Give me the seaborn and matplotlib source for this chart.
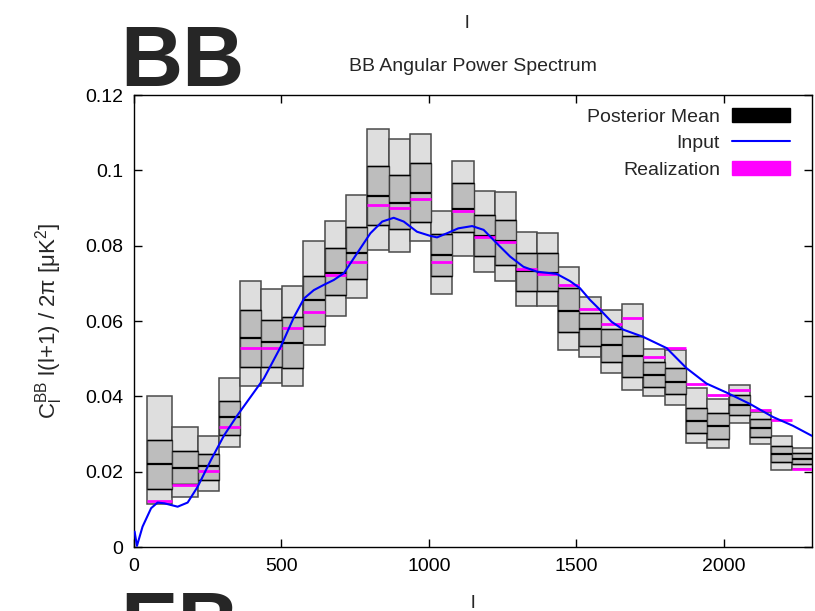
import matplotlib
matplotlib.use("Agg")
import matplotlib.pyplot as plt
from matplotlib.patches import Patch
from matplotlib.lines import Line2D
from matplotlib.ticker import FuncFormatter
import seaborn as sns
import numpy as np

# ---- data ----
l_edges = [43, 129, 216, 288, 359, 432, 503, 574, 648, 719, 791, 864, 935, 1008, 1080,
           1152, 1223, 1296, 1367, 1440, 1511, 1585, 1656, 1728, 1801, 1873, 1945, 2017,
           2089, 2161, 2232, 2303]
outer_hi = [0.0401, 0.0318, 0.0295, 0.0448, 0.0707, 0.0684, 0.0694, 0.0812, 0.0865, 0.0934,
            0.1109, 0.1082, 0.1096, 0.0892, 0.1026, 0.0946, 0.0942, 0.0837, 0.0834, 0.0743,
            0.0663, 0.0629, 0.0644, 0.0525, 0.0523, 0.0421, 0.0392, 0.0430, 0.0359, 0.0295, 0.0262]
inner_hi = [0.0283, 0.0256, 0.0246, 0.0388, 0.0628, 0.0603, 0.0611, 0.0719, 0.0795, 0.0850,
            0.1012, 0.0988, 0.1019, 0.0831, 0.0966, 0.0882, 0.0868, 0.0780, 0.0780, 0.0687,
            0.0620, 0.0579, 0.0560, 0.0492, 0.0474, 0.0368, 0.0355, 0.0404, 0.0340, 0.0269, 0.0250]
post_mean = [0.0220, 0.0211, 0.0214, 0.0344, 0.0554, 0.0543, 0.0542, 0.0656, 0.0727, 0.0780,
             0.0933, 0.0912, 0.0941, 0.0775, 0.0898, 0.0826, 0.0812, 0.0733, 0.0728, 0.0627,
             0.0578, 0.0535, 0.0508, 0.0457, 0.0439, 0.0335, 0.0322, 0.0376, 0.0315, 0.0247, 0.0233]
inner_lo = [0.0153, 0.0166, 0.0178, 0.0297, 0.0479, 0.0477, 0.0474, 0.0588, 0.0669, 0.0711,
            0.0855, 0.0844, 0.0862, 0.0719, 0.0835, 0.0773, 0.0749, 0.0680, 0.0680, 0.0570,
            0.0534, 0.0492, 0.0451, 0.0426, 0.0405, 0.0302, 0.0286, 0.0350, 0.0293, 0.0225, 0.0220]
outer_lo = [0.0114, 0.0132, 0.0149, 0.0266, 0.0428, 0.0435, 0.0428, 0.0535, 0.0614, 0.0660,
            0.0788, 0.0784, 0.0812, 0.0672, 0.0773, 0.0731, 0.0706, 0.0641, 0.0641, 0.0523,
            0.0504, 0.0461, 0.0417, 0.0401, 0.0377, 0.0275, 0.0262, 0.0328, 0.0273, 0.0204, 0.0206]
realization = [0.0121, 0.0165, 0.0202, 0.0319, 0.0528, 0.0527, 0.0581, 0.0624, 0.0723, 0.0757,
               0.0909, 0.0899, 0.0923, 0.0756, 0.0893, 0.0823, 0.0810, 0.0739, 0.0724, 0.0696,
               0.0632, 0.0593, 0.0607, 0.0505, 0.0527, 0.0433, 0.0404, 0.0418, 0.0365, 0.0337, 0.0206]

input_l = [2, 10, 29, 58, 80, 103, 148, 182, 216, 261, 306, 351, 396, 441, 498, 543, 577, 610,
           644, 678, 712, 757, 802, 842, 881, 915, 960, 1005, 1028, 1062, 1100, 1147, 1186, 1231,
           1276, 1321, 1367, 1434, 1479, 1513, 1547, 1587, 1620, 1660, 1727, 1807, 1874, 1942,
           2010, 2089, 2168, 2235, 2300]
input_cl = [0.0041, 0.0003, 0.0054, 0.0103, 0.0118, 0.0116, 0.0107, 0.0118, 0.0160, 0.0231,
            0.0297, 0.0350, 0.0399, 0.0448, 0.0532, 0.0611, 0.0660, 0.0682, 0.0696, 0.0709,
            0.0727, 0.0780, 0.0833, 0.0864, 0.0874, 0.0864, 0.0837, 0.0826, 0.0822, 0.0833,
            0.0846, 0.0852, 0.0842, 0.0806, 0.0771, 0.0744, 0.0731, 0.0725, 0.0706, 0.0687,
            0.0656, 0.0625, 0.0598, 0.0577, 0.0558, 0.0528, 0.0475, 0.0434, 0.0410, 0.0380,
            0.0345, 0.0322, 0.0295]

x_ticks = [0, 500, 1000, 1500, 2000]
y_ticks = [0, 0.02, 0.04, 0.06, 0.08, 0.1, 0.12]

# ---- style ----
sns.set_style("ticks")
plt.rcParams['font.family'] = ['Liberation Sans', 'DejaVu Sans']
plt.rcParams['mathtext.fontset'] = 'custom'
plt.rcParams['mathtext.rm'] = 'Liberation Sans'
plt.rcParams['mathtext.it'] = 'Liberation Sans'

fig = plt.figure(figsize=(8.15, 6.11), dpi=100)
ax = fig.add_axes([134 / 815, 1 - 547 / 611, (812 - 134) / 815, (547 - 95) / 611])

left = np.array(l_edges[:-1])
width = np.diff(l_edges)
right = left + width

ax.bar(left, np.array(outer_hi) - np.array(outer_lo), bottom=outer_lo, width=width,
       align='edge', color='#dedede', edgecolor='#4a4a4a', linewidth=1.1, zorder=1)
ax.bar(left, np.array(inner_hi) - np.array(inner_lo), bottom=inner_lo, width=width,
       align='edge', color='#bdbdbd', edgecolor='#404040', linewidth=1.0, zorder=1.5)
ax.hlines(inner_hi, left, right, colors='black', linewidth=1.0, zorder=2)
ax.hlines(inner_lo, left, right, colors='black', linewidth=1.0, zorder=2)
ax.hlines(post_mean, left, right, colors='black', linewidth=1.6, zorder=2.5)
ax.hlines(realization, left, right, colors='#ff00ff', linewidth=2.0, zorder=3)

sns.lineplot(x=input_l, y=input_cl, ax=ax, color='#0000ff', linewidth=1.5, zorder=4,
             legend=False, sort=False)

ax.set_xlim(0, 2300)
ax.set_ylim(0, 0.12)
ax.set_xticks(x_ticks)
ax.set_yticks(y_ticks)
ax.yaxis.set_major_formatter(FuncFormatter(lambda v, p: '%g' % round(v, 4)))
ax.tick_params(direction='in', top=True, right=True, length=6, width=1,
               labelsize=14, colors='black', pad=8)
for s in ax.spines.values():
    s.set_visible(True)
    s.set_color('black')
    s.set_linewidth(1.0)

ax.set_title('BB Angular Power Spectrum', fontsize=14, pad=17)
ax.set_xlabel('l', fontsize=14, labelpad=14)
ax.set_ylabel(r'C$_\mathrm{l}^\mathrm{BB}$ l(l+1) / 2$\pi$ [$\mu$K$^2$]', fontsize=16, labelpad=14)

handles = [Patch(facecolor='black', edgecolor='black'),
           Line2D([0], [0], color='#0000ff', linewidth=1.5),
           Patch(facecolor='#ff00ff', edgecolor='#ff00ff')]
labels = ['Posterior Mean', 'Input', 'Realization']
ax.legend(handles, labels, loc='upper right', bbox_to_anchor=(0.9676, 0.972),
          frameon=False, markerfirst=False, fontsize=14, handlelength=3.0,
          handleheight=0.75, handletextpad=0.6, labelspacing=0.45, borderpad=0,
          borderaxespad=0)

fig.text(120 / 815, 1 - 86 / 611, 'BB', fontsize=62, fontweight='bold',
         va='baseline', ha='left')
fig.text(120 / 815, 1 - 652 / 611, 'EB', fontsize=62, fontweight='bold',
         va='baseline', ha='left')
fig.text(467 / 815, 1 - 28 / 611, 'l', fontsize=14, va='baseline', ha='center')

fig.savefig('out.png', dpi=100)
